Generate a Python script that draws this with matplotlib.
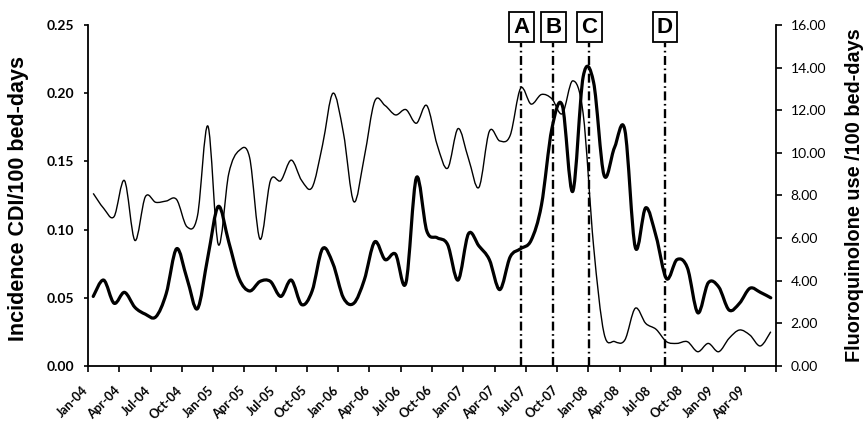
import matplotlib
matplotlib.use("Agg")
import matplotlib.pyplot as plt
import numpy as np
from matplotlib.ticker import FormatStrFormatter
from matplotlib.transforms import blended_transform_factory, ScaledTranslation
from matplotlib.path import Path
from matplotlib.patches import PathPatch

# Monthly values Jan-04 .. Jun-09
cdi_incidence = [
    0.051, 0.063, 0.046, 0.054, 0.043, 0.038, 0.036, 0.053, 0.086, 0.064,
    0.042, 0.080, 0.117, 0.091, 0.064, 0.055, 0.062, 0.062, 0.051, 0.063,
    0.045, 0.055, 0.086, 0.075, 0.050, 0.046, 0.063, 0.091, 0.078, 0.082,
    0.061, 0.138, 0.099, 0.094, 0.089, 0.063, 0.097, 0.088, 0.078, 0.056,
    0.080, 0.086, 0.092, 0.118, 0.174, 0.191, 0.128, 0.212, 0.208, 0.140,
    0.160, 0.173, 0.087, 0.116, 0.095, 0.064, 0.078, 0.072, 0.039, 0.061,
    0.058, 0.041, 0.046, 0.057, 0.054, 0.050,
]

fq_use = [
    8.10, 7.40, 7.01, 8.70, 5.89, 7.94, 7.68, 7.74, 7.81, 6.53,
    7.04, 11.26, 5.70, 9.02, 10.11, 9.79, 5.95, 8.70, 8.70, 9.66,
    8.70, 8.38, 10.37, 12.80, 10.94, 7.71, 9.79, 12.42, 12.22, 11.78,
    12.03, 11.39, 12.22, 10.37, 9.28, 11.14, 9.73, 8.38, 11.01, 10.56,
    10.82, 13.03, 12.29, 12.74, 12.54, 11.84, 13.38, 11.84, 5.63, 1.54,
    1.15, 1.22, 2.71, 2.00, 1.72, 1.14, 1.06, 1.14, 0.67, 1.06,
    0.67, 1.30, 1.69, 1.45, 0.94, 1.61,
]

tick_labels = [
    "Jan-04", "Apr-04", "Jul-04", "Oct-04", "Jan-05", "Apr-05", "Jul-05",
    "Oct-05", "Jan-06", "Apr-06", "Jul-06", "Oct-06", "Jan-07", "Apr-07",
    "Jul-07", "Oct-07", "Jan-08", "Apr-08", "Jul-08", "Oct-08", "Jan-09",
    "Apr-09",
]

# Intervention markers (month index, 0 = Jan-04)
event_labels = ["A", "B", "C", "D"]
event_months = [41.08, 44.13, 47.57, 54.85]


def smooth_path(xs, ys):
    """Smoothed (Excel-like) line through the data points as a Bezier path."""
    p = np.column_stack([xs, ys]).astype(float)
    ext = np.vstack([p[0], p, p[-1]])
    verts = [p[0]]
    codes = [Path.MOVETO]
    for i in range(len(p) - 1):
        p0, p1, p2, p3 = ext[i], ext[i + 1], ext[i + 2], ext[i + 3]
        c1 = p1 + (p2 - p0) / 6.0
        c2 = p2 - (p3 - p1) / 6.0
        verts += [c1, c2, p2]
        codes += [Path.CURVE4] * 3
    return Path(np.array(verts), codes)


fig = plt.figure(figsize=(8.64, 4.22), dpi=100)
ax = fig.add_axes([88 / 864, 1 - 366 / 422, (776 - 88) / 864, (366 - 25) / 422])
ax2 = ax.twinx()

x = np.arange(len(cdi_incidence))
ax.add_patch(PathPatch(smooth_path(x, cdi_incidence), fill=False, ec="black",
                       lw=2.3, joinstyle="round", capstyle="round", zorder=3))
ax2.add_patch(PathPatch(smooth_path(x, fq_use), fill=False, ec="black",
                        lw=1.0, joinstyle="round", zorder=3))

n = len(cdi_incidence)
ax.set_xlim(-0.5, n - 0.5)
ax.set_ylim(0, 0.25)
ax2.set_ylim(0, 16)

ax.set_yticks(np.arange(0, 0.251, 0.05))
ax.yaxis.set_major_formatter(FormatStrFormatter("%.2f"))
ax2.set_yticks(np.arange(0, 16.01, 2))
ax2.yaxis.set_major_formatter(FormatStrFormatter("%.2f"))

# x axis: tick marks between categories, labels every 3 months
ax.set_xticks(np.arange(-0.5, n, 3))
ax.tick_params(axis="x", which="major", labelbottom=False, length=4,
               width=1.2, direction="out")
lab_trans = blended_transform_factory(ax.transData, ax.transAxes) + \
    ScaledTranslation(-11 / 100, -18 / 100, fig.dpi_scale_trans)
for k, lab in enumerate(tick_labels):
    ax.text(3 * k, 0, lab, transform=lab_trans, rotation=45, ha="right",
            va="top", rotation_mode="anchor", fontsize=9, fontweight="bold",
            family=["Lato", "DejaVu Sans"])

ax.tick_params(axis="y", length=3, width=1.2, direction="out", pad=7)
for lab in ax.get_yticklabels():
    lab.set_fontsize(10)
    lab.set_fontweight("bold")
    lab.set_family(["Lato", "DejaVu Sans"])
ax2.tick_params(axis="y", length=4, width=1.2, direction="out", pad=6.5)
for lab in ax2.get_yticklabels():
    lab.set_fontsize(10)
    lab.set_family(["Lato", "DejaVu Sans"])

for a in (ax, ax2):
    a.spines["top"].set_visible(False)
    for s in ("left", "right", "bottom"):
        a.spines[s].set_linewidth(1.3)
ax.spines["right"].set_visible(False)
ax2.spines["left"].set_visible(False)
ax2.spines["bottom"].set_visible(False)

ax.set_ylabel("Incidence CDI/100 bed-days", fontsize=15.5, fontweight="bold",
              family=["Liberation Sans", "DejaVu Sans"])
ax.yaxis.set_label_coords(-(88 - 29) / 688, 0.49)
ax2.set_ylabel("Fluoroquinolone use /100 bed-days", fontsize=14.3,
               fontweight="bold", family=["Liberation Sans", "DejaVu Sans"])
ax2.yaxis.set_label_coords(1 + (845 - 776) / 688, 0.5)

trans = blended_transform_factory(ax.transData, ax.transAxes)
for lab, m in zip(event_labels, event_months):
    ax.plot([m, m], [0, 0.947], transform=trans, color="black", lw=1.7,
            linestyle=(0, (3.8, 1.5, 0.7, 1.5)), clip_on=False, zorder=4)
    ax.text(m, 0.993, lab, transform=trans, ha="center", va="center",
            fontsize=16, fontweight="bold",
            family=["Liberation Sans", "DejaVu Sans"],
            bbox=dict(boxstyle="square,pad=0.2", fc="white", ec="black", lw=1.3),
            clip_on=False, zorder=5)

fig.savefig("out.png", dpi=100)
